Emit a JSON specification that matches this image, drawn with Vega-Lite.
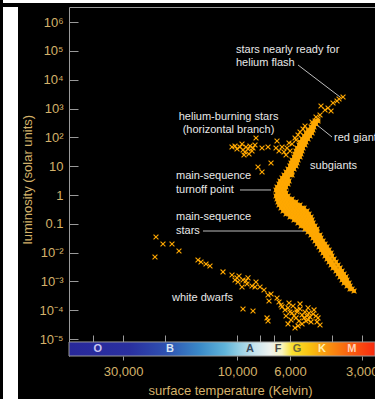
{
  "$schema": "https://vega.github.io/schema/vega-lite/v6.json",
  "background": "#000000",
  "padding": {"left": 3, "top": 0, "right": 0, "bottom": 0},
  "spacing": 4,
  "config": {
    "view": {"stroke": null},
    "axis": {"labelFont": "Liberation Sans", "titleFont": "Liberation Sans", "labelColor": "#d4b26a", "titleColor": "#d4b26a", "titleFontWeight": "normal", "grid": false}
  },
  "datasets": {
    "bar": [{"Thot": 50600, "Tcool": 2640}],
    "classes": [{"cls": "O", "T": 38300}, {"cls": "B", "T": 19100}, {"cls": "A", "T": 8820}, {"cls": "F", "T": 6730}, {"cls": "G", "T": 5600}, {"cls": "K", "T": 4400}, {"cls": "M", "T": 3300}],
    "leaders": [
      {"T1": 5549, "L1": 32660, "T2": 3700, "L2": 2530},
      {"T1": 4619, "L1": 270, "T2": 3997, "L2": 103},
      {"T1": 9715, "L1": 1.495, "T2": 7202, "L2": 1.495},
      {"T1": 13888, "L1": 0.0562, "T2": 4619, "L2": 0.0562}
    ],
    "labelsLeft": [
      {"text": "stars nearly ready for", "T": 10097, "L": 108400},
      {"text": "helium flash", "T": 10097, "L": 38300},
      {"text": "red giants", "T": 3920, "L": 95.4},
      {"text": "subgiants", "T": 4942, "L": 10.2},
      {"text": "main-sequence", "T": 18020, "L": 4.57},
      {"text": "turnoff point", "T": 18020, "L": 1.495},
      {"text": "main-sequence", "T": 18020, "L": 0.172},
      {"text": "stars", "T": 18020, "L": 0.0562},
      {"text": "white dwarfs", "T": 18729, "L": 0.000266}
    ],
    "labelsCenter": [
      {"text": "helium-burning stars", "T": 10850, "L": 511},
      {"text": "(horizontal branch)", "T": 10850, "L": 181}
    ],
    "scatter": [
      {"T":3594,"L":2530},{"T":3735,"L":2155},{"T":3808,"L":1836},{"T":3958,"L":1565},{"T":4445,"L":1232},{"T":4154,"L":1049},{"T":4276,"L":894},{"T":4035,"L":826},{"T":4488,"L":600},{"T":4664,"L":511},{"T":4575,"L":436},{"T":4848,"L":343},{"T":5187,"L":249},{"T":5288,"L":196},{"T":5443,"L":154},{"T":5657,"L":81.3},{"T":4709,"L":316},
      {"T":10495,"L":46.5},{"T":10195,"L":50.3},{"T":10000,"L":39.6},{"T":9715,"L":46.5},{"T":9529,"L":59.1},{"T":9437,"L":36.6},{"T":9257,"L":31.2},{"T":9168,"L":46.5},{"T":8993,"L":39.6},{"T":8821,"L":50.3},{"T":8652,"L":33.8},{"T":8569,"L":42.9},{"T":8405,"L":54.5},{"T":8906,"L":26.6},{"T":9347,"L":24.5},{"T":8324,"L":95.4},{"T":7855,"L":42.9},{"T":7413,"L":46.5},{"T":7202,"L":12.9},{"T":8165,"L":9.39},{"T":7855,"L":6.3},{"T":6796,"L":75.1},{"T":6862,"L":42.9},{"T":6666,"L":33.8},{"T":6476,"L":46.5},{"T":6352,"L":31.2},{"T":6171,"L":42.9},{"T":5995,"L":33.8},{"T":6230,"L":24.5},{"T":5880,"L":59.1},{"T":6053,"L":64},{"T":5712,"L":95.4},{"T":5549,"L":121},
      {"T":21858,"L":0.0349},{"T":20430,"L":0.0199},{"T":18729,"L":0.0199},{"T":17506,"L":0.0114},{"T":22070,"L":0.00705},{"T":14572,"L":0.00554},{"T":14156,"L":0.00473},{"T":13489,"L":0.00403},{"T":12978,"L":0.00343},{"T":11447,"L":0.00213},{"T":10495,"L":0.00167},{"T":10000,"L":0.00132},{"T":9809,"L":0.00154},{"T":10195,"L":0.00112},{"T":9904,"L":0.000955},{"T":9437,"L":0.00112},{"T":9168,"L":0.00104},{"T":8993,"L":0.00132},{"T":9080,"L":0.000814},{"T":9529,"L":0.000641},{"T":8652,"L":0.000694},{"T":8324,"L":0.000955},{"T":8405,"L":0.000641},{"T":8009,"L":0.000641},{"T":7705,"L":0.000504},{"T":7413,"L":0.000338},{"T":7202,"L":0.000366},{"T":7342,"L":0.000209},{"T":6796,"L":0.000266},{"T":6666,"L":0.000193},{"T":6476,"L":0.00013},{"T":6291,"L":0.000102},{"T":6112,"L":0.00012},{"T":6053,"L":0.000178},{"T":5824,"L":0.00014},{"T":5880,"L":0.00008},{"T":5603,"L":0.000102},{"T":5603,"L":0.0000868},{"T":5443,"L":0.00011},{"T":5339,"L":0.0000684},{"T":5187,"L":0.0000868},{"T":5087,"L":0.0000631},{"T":5038,"L":0.00012},{"T":4942,"L":0.0000583},{"T":4801,"L":0.000074},{"T":5137,"L":0.0000423},{"T":5339,"L":0.0000333},{"T":5712,"L":0.0000242},{"T":6112,"L":0.0000333},{"T":5937,"L":0.0000458},{"T":5657,"L":0.0000538},{"T":5496,"L":0.0000423},{"T":5237,"L":0.0000538},{"T":5038,"L":0.0000458},{"T":4895,"L":0.0000391},{"T":4755,"L":0.000102},{"T":4664,"L":0.0000631},{"T":4575,"L":0.0000538},{"T":4619,"L":0.0000391},{"T":4488,"L":0.0000307},{"T":5549,"L":0.0000284},{"T":5768,"L":0.0000631},{"T":5443,"L":0.000165},{"T":6539,"L":0.000152},{"T":7485,"L":0.0000538},{"T":7413,"L":0.0000423},{"T":9437,"L":0.00011},{"T":8569,"L":0.0000941},{"T":5995,"L":0.0000868},{"T":6230,"L":0.0000631},{"T":4990,"L":0.0000802}
    ],
    "band": [
      {"T":4709,"L":371},{"T":4575,"L":371},
      {"T":4801,"L":292},{"T":4664,"L":292},
      {"T":4895,"L":230},{"T":4755,"L":230},
      {"T":5038,"L":181},{"T":4895,"L":181},{"T":4801,"L":181},
      {"T":5137,"L":142},{"T":4990,"L":142},{"T":4848,"L":142},
      {"T":5237,"L":112},{"T":5087,"L":112},{"T":4942,"L":112},
      {"T":5339,"L":88.1},{"T":5187,"L":88.1},{"T":5038,"L":88.1},
      {"T":5443,"L":69.3},{"T":5288,"L":69.3},{"T":5137,"L":69.3},
      {"T":5496,"L":54.5},{"T":5339,"L":54.5},{"T":5187,"L":54.5},
      {"T":5603,"L":42.9},{"T":5443,"L":42.9},{"T":5288,"L":42.9},
      {"T":5657,"L":33.8},{"T":5496,"L":33.8},{"T":5339,"L":33.8},
      {"T":5712,"L":26.6},{"T":5549,"L":26.6},{"T":5391,"L":26.6},
      {"T":5768,"L":20.9},{"T":5603,"L":20.9},{"T":5443,"L":20.9},
      {"T":5880,"L":16.4},{"T":5712,"L":16.4},{"T":5549,"L":16.4},
      {"T":5937,"L":12.9},{"T":5768,"L":12.9},{"T":5603,"L":12.9},
      {"T":5995,"L":10.2},{"T":5824,"L":10.2},{"T":5657,"L":10.2},
      {"T":6112,"L":8.0},{"T":5937,"L":8.0},{"T":5768,"L":8.0},
      {"T":6230,"L":6.3},{"T":6053,"L":6.3},{"T":5880,"L":6.3},
      {"T":6352,"L":4.96},{"T":6171,"L":4.96},{"T":5995,"L":4.96},{"T":5880,"L":4.96},
      {"T":6476,"L":3.9},{"T":6291,"L":3.9},{"T":6112,"L":3.9},
      {"T":6602,"L":3.07},{"T":6413,"L":3.07},{"T":6230,"L":3.07},{"T":6053,"L":3.07},
      {"T":6666,"L":2.41},{"T":6476,"L":2.41},{"T":6291,"L":2.41},{"T":6112,"L":2.41},
      {"T":6796,"L":1.9},{"T":6602,"L":1.9},{"T":6413,"L":1.9},{"T":6230,"L":1.9},
      {"T":6862,"L":1.495},{"T":6666,"L":1.495},{"T":6476,"L":1.495},{"T":6291,"L":1.495},
      {"T":6796,"L":1.17},{"T":6602,"L":1.17},{"T":6413,"L":1.17},{"T":6230,"L":1.17},
      {"T":6862,"L":0.923},{"T":6666,"L":0.923},{"T":6476,"L":0.923},{"T":6291,"L":0.923},{"T":6112,"L":0.923},
      {"T":6796,"L":0.726},{"T":6602,"L":0.726},{"T":6413,"L":0.726},{"T":6230,"L":0.726},{"T":6053,"L":0.726},{"T":5880,"L":0.726},
      {"T":6731,"L":0.572},{"T":6539,"L":0.572},{"T":6352,"L":0.572},{"T":6171,"L":0.572},{"T":5995,"L":0.572},{"T":5824,"L":0.572},{"T":5657,"L":0.572},
      {"T":6666,"L":0.45},{"T":6476,"L":0.45},{"T":6291,"L":0.45},{"T":6112,"L":0.45},{"T":5937,"L":0.45},{"T":5768,"L":0.45},{"T":5603,"L":0.45},{"T":5443,"L":0.45},
      {"T":6539,"L":0.354},{"T":6352,"L":0.354},{"T":6171,"L":0.354},{"T":5995,"L":0.354},{"T":5824,"L":0.354},{"T":5657,"L":0.354},{"T":5496,"L":0.354},{"T":5339,"L":0.354},{"T":5237,"L":0.354},
      {"T":6413,"L":0.278},{"T":6230,"L":0.278},{"T":6053,"L":0.278},{"T":5880,"L":0.278},{"T":5712,"L":0.278},{"T":5549,"L":0.278},{"T":5391,"L":0.278},{"T":5237,"L":0.278},{"T":5087,"L":0.278},
      {"T":6230,"L":0.219},{"T":6053,"L":0.219},{"T":5880,"L":0.219},{"T":5712,"L":0.219},{"T":5549,"L":0.219},{"T":5391,"L":0.219},{"T":5237,"L":0.219},{"T":5087,"L":0.219},{"T":4990,"L":0.219},
      {"T":5995,"L":0.172},{"T":5824,"L":0.172},{"T":5657,"L":0.172},{"T":5496,"L":0.172},{"T":5339,"L":0.172},{"T":5187,"L":0.172},{"T":5038,"L":0.172},{"T":4895,"L":0.172},
      {"T":5768,"L":0.136},{"T":5603,"L":0.136},{"T":5443,"L":0.136},{"T":5288,"L":0.136},{"T":5137,"L":0.136},{"T":4990,"L":0.136},{"T":4848,"L":0.136},
      {"T":5549,"L":0.107},{"T":5391,"L":0.107},{"T":5237,"L":0.107},{"T":5087,"L":0.107},{"T":4942,"L":0.107},{"T":4801,"L":0.107},
      {"T":5391,"L":0.0839},{"T":5237,"L":0.0839},{"T":5087,"L":0.0839},{"T":4942,"L":0.0839},{"T":4801,"L":0.0839},{"T":4709,"L":0.0839},
      {"T":5187,"L":0.066},{"T":5038,"L":0.066},{"T":4895,"L":0.066},{"T":4755,"L":0.066},{"T":4619,"L":0.066},
      {"T":5038,"L":0.052},{"T":4895,"L":0.052},{"T":4755,"L":0.052},{"T":4619,"L":0.052},
      {"T":4895,"L":0.0409},{"T":4755,"L":0.0409},{"T":4619,"L":0.0409},{"T":4488,"L":0.0409},
      {"T":4801,"L":0.0322},{"T":4664,"L":0.0322},{"T":4531,"L":0.0322},{"T":4445,"L":0.0322},
      {"T":4709,"L":0.0253},{"T":4575,"L":0.0253},{"T":4445,"L":0.0253},{"T":4360,"L":0.0253},
      {"T":4619,"L":0.0199},{"T":4488,"L":0.0199},{"T":4360,"L":0.0199},{"T":4276,"L":0.0199},
      {"T":4531,"L":0.0157},{"T":4402,"L":0.0157},{"T":4276,"L":0.0157},{"T":4194,"L":0.0157},
      {"T":4445,"L":0.0123},{"T":4318,"L":0.0123},{"T":4194,"L":0.0123},{"T":4114,"L":0.0123},
      {"T":4360,"L":0.0097},{"T":4235,"L":0.0097},{"T":4114,"L":0.0097},{"T":4035,"L":0.0097},
      {"T":4276,"L":0.00763},{"T":4154,"L":0.00763},{"T":3997,"L":0.00763},
      {"T":4194,"L":0.00601},{"T":4075,"L":0.00601},{"T":3920,"L":0.00601},
      {"T":4114,"L":0.00473},{"T":3997,"L":0.00473},{"T":3845,"L":0.00473},
      {"T":4035,"L":0.00372},{"T":3920,"L":0.00372},{"T":3772,"L":0.00372},
      {"T":3958,"L":0.00293},{"T":3845,"L":0.00293},{"T":3700,"L":0.00293},
      {"T":3845,"L":0.0023},{"T":3735,"L":0.0023},{"T":3629,"L":0.0023},
      {"T":3772,"L":0.00181},{"T":3664,"L":0.00181},{"T":3560,"L":0.00181},
      {"T":3700,"L":0.00143},{"T":3594,"L":0.00143},{"T":3492,"L":0.00143},
      {"T":3629,"L":0.00112},{"T":3525,"L":0.00112},{"T":3458,"L":0.00112},
      {"T":3560,"L":0.000882},{"T":3458,"L":0.000882},{"T":3392,"L":0.000882},
      {"T":3458,"L":0.000694},{"T":3359,"L":0.000694},
      {"T":3359,"L":0.000546},{"T":3295,"L":0.000546},
      {"T":3232,"L":0.000465}
    ]
  },
  "vconcat": [
    {
      "width": 372,
      "height": 3,
      "view": {"fill": "#ffffff", "stroke": null},
      "data": {"values": [{"strip": 1}]},
      "mark": {"type": "point", "opacity": 0, "size": 0}
    },
    {
      "spacing": 3,
      "hconcat": [
        {
          "width": 15,
          "height": 392,
          "view": {"fill": "#ffffff", "stroke": null},
          "data": {"values": [{"strip": 1}]},
          "mark": {"type": "point", "opacity": 0, "size": 0}
        },
        {
          "width": 306,
          "height": 349,
          "resolve": {"axis": {"x": "independent", "y": "independent"}},
          "layer": [
            {
              "data": {"name": "bar"},
              "mark": {"type": "rect", "stroke": "#9a9a9a", "strokeWidth": 1,
                "fill": {"gradient": "linear", "x1": 0, "y1": 0, "x2": 1, "y2": 0, "stops": [
                  {"offset": 0, "color": "#28289a"}, {"offset": 0.2, "color": "#2a30a0"}, {"offset": 0.314, "color": "#2e50b0"},
                  {"offset": 0.428, "color": "#3a8ac8"}, {"offset": 0.51, "color": "#60b4da"}, {"offset": 0.559, "color": "#98d0e4"},
                  {"offset": 0.608, "color": "#c8e4ee"}, {"offset": 0.657, "color": "#eef2ee"}, {"offset": 0.696, "color": "#f8f4c0"},
                  {"offset": 0.729, "color": "#f8e030"}, {"offset": 0.788, "color": "#f8c010"}, {"offset": 0.837, "color": "#f89a10"},
                  {"offset": 0.902, "color": "#f86a10"}, {"offset": 1, "color": "#f82a10"}]}},
              "encoding": {
                "x": {"field": "Thot", "type": "quantitative", "scale": {"type": "log", "domain": [50600, 2640], "nice": false},
                  "axis": {"orient": "bottom", "offset": -14, "tickSize": -7, "values": [40000, 30000, 20000, 10000, 8000, 7000, 6000, 4000, 3000], "labels": false, "domain": false, "title": null, "tickColor": "#9a9a9a"}},
                "x2": {"field": "Tcool"},
                "y": {"datum": 7.9e-6, "type": "quantitative", "scale": {"type": "log", "domain": [2.57e-6, 3.37e6], "nice": false}, "axis": null},
                "y2": {"datum": 2.57e-6}
              }
            },
            {
              "data": {"name": "classes"},
              "mark": {"type": "text", "font": "Liberation Sans", "fontWeight": "bold", "fontSize": 11, "baseline": "middle"},
              "encoding": {
                "x": {"field": "T", "type": "quantitative", "scale": {"type": "log", "domain": [50600, 2640], "nice": false}, "axis": null},
                "y": {"datum": 4.5e-6, "type": "quantitative", "axis": null},
                "text": {"field": "cls"},
                "color": {"field": "cls", "type": "nominal", "legend": null,
                  "scale": {"domain": ["O", "B", "A", "F", "G", "K", "M"], "range": ["#c9c6f2", "#d8e6f4", "#3a4a5c", "#4a4a4a", "#6b6a3a", "#fff0b0", "#ffd0b8"]}}
              }
            },
            {
              "data": {"name": "leaders"},
              "mark": {"type": "rule", "color": "#bdbdbd", "strokeWidth": 1},
              "encoding": {
                "x": {"field": "T1", "type": "quantitative", "scale": {"type": "log", "domain": [50600, 2640], "nice": false}, "axis": null},
                "x2": {"field": "T2"},
                "y": {"field": "L1", "type": "quantitative", "axis": null},
                "y2": {"field": "L2"}
              }
            },
            {
              "data": {"name": "band"},
              "mark": {"type": "point", "shape": "circle", "filled": true, "size": 16, "color": "#ffaa00", "opacity": 1},
              "encoding": {
                "x": {"field": "T", "type": "quantitative", "scale": {"type": "log", "domain": [50600, 2640], "nice": false}, "axis": null},
                "y": {"field": "L", "type": "quantitative", "axis": null}
              }
            },
            {
              "data": {"name": "band"},
              "mark": {"type": "point", "shape": "M-1,-1L1,1M-1,1L1,-1", "filled": false, "strokeWidth": 1.1, "size": 24, "color": "#ffa800", "opacity": 1},
              "encoding": {
                "x": {"field": "T", "type": "quantitative", "scale": {"type": "log", "domain": [50600, 2640], "nice": false}, "axis": null},
                "y": {"field": "L", "type": "quantitative", "axis": null}
              }
            },
            {
              "data": {"name": "scatter"},
              "mark": {"type": "point", "shape": "M-1,-1L1,1M-1,1L1,-1", "filled": false, "strokeWidth": 1.1, "size": 24, "color": "#ffa800", "opacity": 1},
              "encoding": {
                "x": {"field": "T", "type": "quantitative", "scale": {"type": "log", "domain": [50600, 2640], "nice": false},
                  "axis": {"orient": "bottom", "values": [30000, 10000, 6000, 3000], "format": ",d", "tickSize": 4, "tickColor": "#9a9a9a", "domain": false, "labelFontSize": 13, "labelPadding": 5,
                    "title": "surface temperature (Kelvin)", "titleFontSize": 13, "titleX": 161, "titleY": 34, "titleAlign": "center", "titleBaseline": "middle", "titleAnchor": null}},
                "y": {"field": "L", "type": "quantitative", "scale": {"type": "log", "domain": [2.57e-6, 3.37e6], "nice": false},
                  "axis": {"orient": "left", "values": [1e-5, 1e-4, 1e-3, 1e-2, 0.1, 1, 10, 100, 1000, 10000, 100000, 1000000],
                    "labelExpr": "['10⁻⁵','10⁻⁴','10⁻³','10⁻²','0.1','1','10','10²','10³','10⁴','10⁵','10⁶'][round(log(datum.value)/LN10)+5]",
                    "tickSize": -9, "labelPadding": 15, "labelFontSize": 13, "tickColor": "#9a9a9a", "domainColor": "#9a9a9a",
                    "title": "luminosity (solar units)", "titleFontSize": 13, "titleX": -41.5, "titleY": 172, "titleAlign": "center", "titleBaseline": "middle", "titleAngle": 270, "titleAnchor": null}}
              }
            },
            {
              "data": {"name": "labelsLeft"},
              "mark": {"type": "text", "align": "left", "baseline": "middle", "font": "Liberation Sans", "fontSize": 11, "color": "#e8e8e8", "clip": true},
              "encoding": {
                "x": {"field": "T", "type": "quantitative", "scale": {"type": "log", "domain": [50600, 2640], "nice": false},
                  "axis": {"orient": "top", "ticks": false, "labels": false, "domain": true, "domainColor": "#9a9a9a", "title": null}},
                "y": {"field": "L", "type": "quantitative", "axis": null},
                "text": {"field": "text"}
              }
            },
            {
              "data": {"name": "labelsCenter"},
              "mark": {"type": "text", "align": "center", "baseline": "middle", "font": "Liberation Sans", "fontSize": 11, "color": "#e8e8e8", "clip": true},
              "encoding": {
                "x": {"field": "T", "type": "quantitative", "scale": {"type": "log", "domain": [50600, 2640], "nice": false}, "axis": null},
                "y": {"field": "L", "type": "quantitative", "axis": null},
                "text": {"field": "text"}
              }
            }
          ]
        }
      ]
    }
  ]
}
